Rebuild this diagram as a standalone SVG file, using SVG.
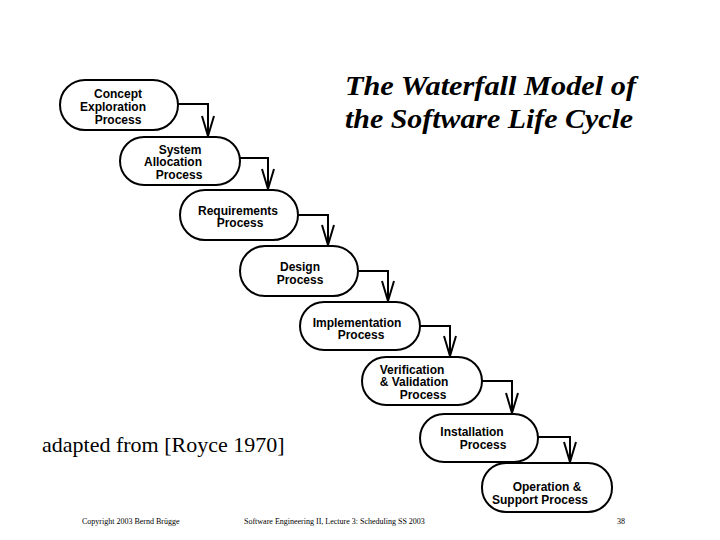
<svg xmlns="http://www.w3.org/2000/svg" width="720" height="540" viewBox="0 0 720 540">
<style>
.n{fill:#fff;stroke:#000;stroke-width:2}
.t{font-family:"Liberation Sans",Arial,sans-serif;font-size:12px;font-weight:bold;text-anchor:middle}
.c{fill:none;stroke:#000;stroke-width:2}
.ft{font-family:"Liberation Serif",serif;font-size:8px}
</style>
<defs><marker id="a" markerWidth="22" markerHeight="14" refX="21" refY="7" orient="auto" markerUnits="userSpaceOnUse"><path d="M1,1 L21,7 L1,13" fill="none" stroke="#000" stroke-width="2"/></marker></defs>
<rect width="720" height="540" fill="#fff"/>
<text x="345" y="95" font-family="Liberation Serif,serif" font-size="28" font-style="italic" font-weight="bold" textLength="291" lengthAdjust="spacingAndGlyphs">The Waterfall Model of</text>
<text x="345" y="128" font-family="Liberation Serif,serif" font-size="28" font-style="italic" font-weight="bold" textLength="288" lengthAdjust="spacingAndGlyphs">the Software Life Cycle</text>
<g id="connectors">
<path class="c" d="M178,104 H208 V136" marker-end="url(#a)"/>
<path class="c" d="M240,158 H268 V189" marker-end="url(#a)"/>
<path class="c" d="M298,215 H328 V245" marker-end="url(#a)"/>
<path class="c" d="M358,271 H388 V301" marker-end="url(#a)"/>
<path class="c" d="M420,326 H450 V356" marker-end="url(#a)"/>
<path class="c" d="M482,381 H512 V413" marker-end="url(#a)"/>
<path class="c" d="M538,437 H570 V462" marker-end="url(#a)"/>
</g>
<g id="n1"><rect class="n" x="60" y="80" width="118" height="50" rx="25"/><text class="t" x="118" y="98">Concept</text><text class="t" x="113" y="111">Exploration</text><text class="t" x="118" y="124">Process</text></g>
<g id="n2"><rect class="n" x="120" y="137" width="120" height="48" rx="24"/><text class="t" x="180" y="154">System</text><text class="t" x="173" y="166">Allocation</text><text class="t" x="179" y="179">Process</text></g>
<g id="n3"><rect class="n" x="180" y="190" width="118" height="50" rx="25"/><text class="t" x="238" y="215">Requirements</text><text class="t" x="240" y="227">Process</text></g>
<g id="n4"><rect class="n" x="240" y="246" width="118" height="50" rx="25"/><text class="t" x="300" y="271">Design</text><text class="t" x="300" y="284">Process</text></g>
<g id="n5"><rect class="n" x="300" y="302" width="120" height="48" rx="24"/><text class="t" x="357" y="327">Implementation</text><text class="t" x="361" y="339">Process</text></g>
<g id="n6"><rect class="n" x="362" y="357" width="120" height="48" rx="24"/><text class="t" x="412" y="374">Verification</text><text class="t" x="414" y="386">&amp; Validation</text><text class="t" x="423" y="399">Process</text></g>
<g id="n7"><rect class="n" x="420" y="414" width="118" height="48" rx="24"/><text class="t" x="472" y="436">Installation</text><text class="t" x="483" y="449">Process</text></g>
<g id="n8"><rect class="n" x="482" y="463" width="130" height="49" rx="24"/><text class="t" x="547" y="491">Operation &amp;</text><text class="t" x="540" y="504">Support Process</text></g>
<text x="42" y="452" font-family="Liberation Serif,serif" font-size="22">adapted from [Royce 1970]</text>
<text class="ft" x="82" y="524">Copyright 2003 Bernd Brügge</text>
<text class="ft" x="244" y="524">Software Engineering II, Lecture 3: Scheduling SS 2003</text>
<text class="ft" x="617" y="524">38</text>
</svg>
